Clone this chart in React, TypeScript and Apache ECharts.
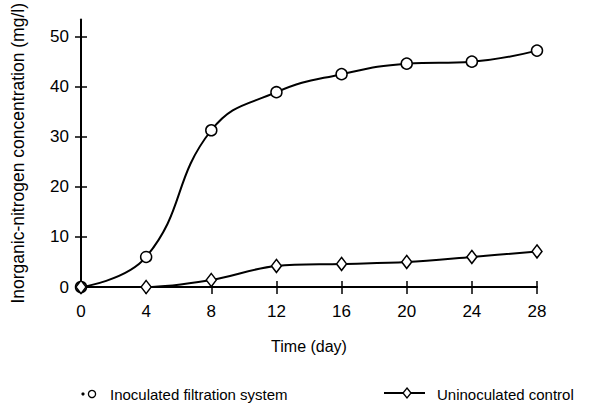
import React, { useEffect, useRef } from "react";
import * as echarts from "echarts";

const days = [0, 4, 8, 12, 16, 20, 24, 28];
const inoculated = [0, 6, 31.3, 38.9, 42.5, 44.6, 45, 47.2];
const uninoculated = [0, 0, 1.4, 4.2, 4.6, 5, 6, 7.1];
const yTicks = [0, 10, 20, 30, 40, 50];
const xTicks = [0, 4, 8, 12, 16, 20, 24, 28];

const FONT = "Liberation Sans";

export default function App() {
  const ref = useRef<HTMLDivElement>(null);
  useEffect(() => {
    const chart = echarts.init(ref.current!, null, { renderer: "svg" });
    const axisLine = { show: true, lineStyle: { color: "#000", width: 2 } };
    const option: any = {
      animation: false,
      backgroundColor: "#fff",
      grid: { left: 81, right: 53, top: 18, bottom: 118, containLabel: false },
      xAxis: [
        {
          type: "value",
          min: 0,
          max: 28,
          interval: 4,
          name: "Time (day)",
          nameLocation: "middle",
          nameGap: 51,
          nameTextStyle: { fontFamily: FONT, fontSize: 16, color: "#000" },
          axisLine,
          axisTick: { show: true, length: 7, lineStyle: { color: "#000", width: 1.5 }, customValues: xTicks },
          axisLabel: { color: "#000", fontFamily: FONT, fontSize: 17, margin: 16, customValues: xTicks },
          splitLine: { show: false },
        },
        {
          type: "value",
          position: "bottom",
          min: 0,
          max: 28,
          interval: 4,
          axisLine: { show: false },
          axisTick: { show: true, inside: true, length: 6, lineStyle: { color: "#000", width: 1.5 } },
          axisLabel: { show: false },
          splitLine: { show: false },
        },
      ],
      yAxis: [
        {
          type: "value",
          min: 0,
          max: 53.4,
          name: "Inorganic-nitrogen concentration (mg/l)",
          nameLocation: "middle",
          nameGap: 54,
          nameRotate: 90,
          nameTextStyle: { fontFamily: FONT, fontSize: 17.5, color: "#000" },
          axisLine,
          axisTick: { show: true, length: 6, lineStyle: { color: "#000", width: 1.5 }, customValues: yTicks },
          axisLabel: { color: "#000", fontFamily: FONT, fontSize: 17, margin: 12, customValues: yTicks },
          splitLine: { show: false },
        },
        {
          type: "value",
          position: "left",
          min: 0,
          max: 53.4,
          axisLine: { show: false },
          axisTick: { show: true, inside: true, length: 6, lineStyle: { color: "#000", width: 1.5 }, customValues: yTicks },
          axisLabel: { show: false },
          splitLine: { show: false },
        },
      ],
      series: [
        {
          name: "Inoculated filtration system",
          type: "line",
          smooth: 0.45,
          data: days.map((d, i) => [d, inoculated[i]]),
          symbol: "circle",
          symbolSize: 11,
          showAllSymbol: true,
          lineStyle: { color: "#000", width: 2 },
          itemStyle: { color: "#fff", borderColor: "#000", borderWidth: 1.5 },
          z: 3,
        },
        {
          name: "Uninoculated control",
          type: "line",
          smooth: 0.35,
          data: days.map((d, i) => [d, uninoculated[i]]),
          symbol: "diamond",
          symbolSize: [10, 13],
          showAllSymbol: true,
          lineStyle: { color: "#000", width: 2 },
          itemStyle: { color: "#fff", borderColor: "#000", borderWidth: 1.5 },
          z: 3,
        },
      ],
      graphic: [
        { type: "circle", shape: { cx: 83, cy: 394, r: 1.6 }, style: { fill: "#000" } },
        { type: "circle", shape: { cx: 92, cy: 394, r: 3.6 }, style: { fill: "#fff", stroke: "#000", lineWidth: 1.3 } },
        {
          type: "text",
          x: 110,
          y: 394,
          style: { text: "Inoculated filtration system", fontFamily: FONT, fontSize: 15, fill: "#000", verticalAlign: "middle" },
        },
        { type: "line", shape: { x1: 384, y1: 393, x2: 425, y2: 393 }, style: { stroke: "#000", lineWidth: 2 } },
        {
          type: "polygon",
          shape: { points: [[407, 388], [411, 393], [407, 398], [403, 393]] },
          style: { fill: "#fff", stroke: "#000", lineWidth: 1.3 },
        },
        {
          type: "text",
          x: 437,
          y: 394,
          style: { text: "Uninoculated control", fontFamily: FONT, fontSize: 15, fill: "#000", verticalAlign: "middle" },
        },
      ],
    };
    chart.setOption(option);
    return () => chart.dispose();
  }, []);
  return <div ref={ref} style={{ position: "fixed", left: 0, top: 0, width: 590, height: 405 }} />;
}
